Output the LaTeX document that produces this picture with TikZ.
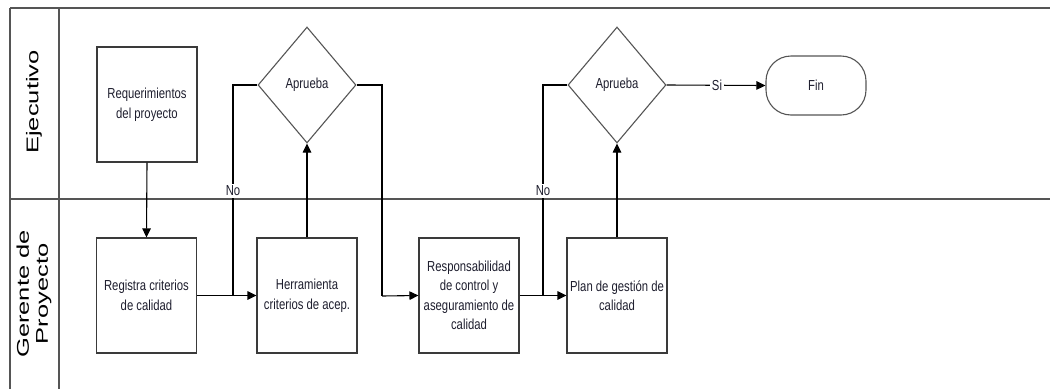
\documentclass[tikz,border=0pt]{standalone}
\usepackage{fontspec}
\setmainfont{Liberation Sans}
\newfontfamily\boxfont[FakeStretch=0.78]{Liberation Sans}
\newfontfamily\lanefont[FakeStretch=1.5]{Liberation Sans}
\usetikzlibrary{shapes.geometric,arrows.meta}
\definecolor{lanegray}{HTML}{555555}
\definecolor{boxgray}{HTML}{3A3A3A}
\definecolor{txt}{HTML}{1E1E2E}
\begin{document}
\begin{tikzpicture}[x=1pt,y=-1pt,
  proc/.style={draw=boxgray, line width=1.1pt, minimum width=100pt, minimum height=115pt,
    inner sep=2pt, align=center, text=txt, font=\boxfont\fontsize{14.5}{19.5}\selectfont},
  decision/.style={diamond, draw=lanegray, line width=1.1pt, minimum width=98pt, minimum height=116pt,
    inner sep=0pt, text=txt, font=\boxfont\fontsize{14.5}{19}\selectfont},
  terminal/.style={draw=lanegray, line width=1.1pt, rounded corners=25pt, minimum width=100pt,
    minimum height=59pt, text=txt, font=\boxfont\fontsize{14.5}{19}\selectfont},
  lbl/.style={fill=white, inner sep=1.5pt, text=txt, font=\boxfont\fontsize{14.5}{16}\selectfont},
  lane/.style={draw=lanegray, line width=1.8pt},
  lanetxt/.style={rotate=90, align=center, text=black, font=\lanefont\fontsize{17}{19}\selectfont},
  conn/.style={draw=black, line width=1.1pt},
  arr/.style={conn, -{Triangle[length=9pt,width=8.5pt]}}
]
\useasboundingbox (0,0) rectangle (1050,389);
\fill[white] (0,0) rectangle (1050,389);

% lanes
\draw[lane] (10,8) -- (1050,8);
\draw[lane] (10,199) -- (1050,199);
\draw[draw=lanegray, line width=1.1pt] (10,8) -- (10,389);
\draw[draw=lanegray, line width=1.1pt] (59,8) -- (59,389);
\node[lanetxt] (l1) at (34,102) {Ejecutivo};
\node[lanetxt] (l2) at (34,294) {Gerente de\\Proyecto};

% nodes
\node[proc] (req) at (147,104.5) {Requerimientos\\del proyecto};
\node[proc] (reg) at (146.5,295.5) {Registra criterios\\de calidad};
\node[proc] (her) at (307,295.5) {Herramienta\\criterios de acep.};
\node[proc] (res) at (469,295.5) {Responsabilidad\\de control y\\aseguramiento de\\calidad};
\node[proc] (pla) at (617,295.5) {Plan de gestión de\\calidad};
\node[decision] (d1) at (307,85) {Aprueba};
\node[decision] (d2) at (617,85) {Aprueba};
\node[terminal] (fin) at (816,85.5) {Fin};

\coordinate (j1) at (233,296);
\coordinate (k1) at (382,296);
\coordinate (j2) at (543,296);

% connectors
\draw[arr] (req.south) -- (reg.north);
\draw[arr] (reg.east) -- (her.west);
\draw[conn] (d1.west) -| (j1);
\draw[arr] (her.north) -- (d1.south);
\draw[conn] (d1.east) -| (k1);
\draw[arr] (k1) -- (res.west);
\draw[arr] (res.east) -- (pla.west);
\draw[conn] (d2.west) -| (j2);
\draw[arr] (pla.north) -- (d2.south);
\draw[arr] (d2.east) -- (fin.west);

% labels
\node[lbl] (no1) at (233,191) {No};
\node[lbl] (no2) at (543,191) {No};
\node[lbl] (si) at (717,85) {Si};
\end{tikzpicture}
\end{document}
